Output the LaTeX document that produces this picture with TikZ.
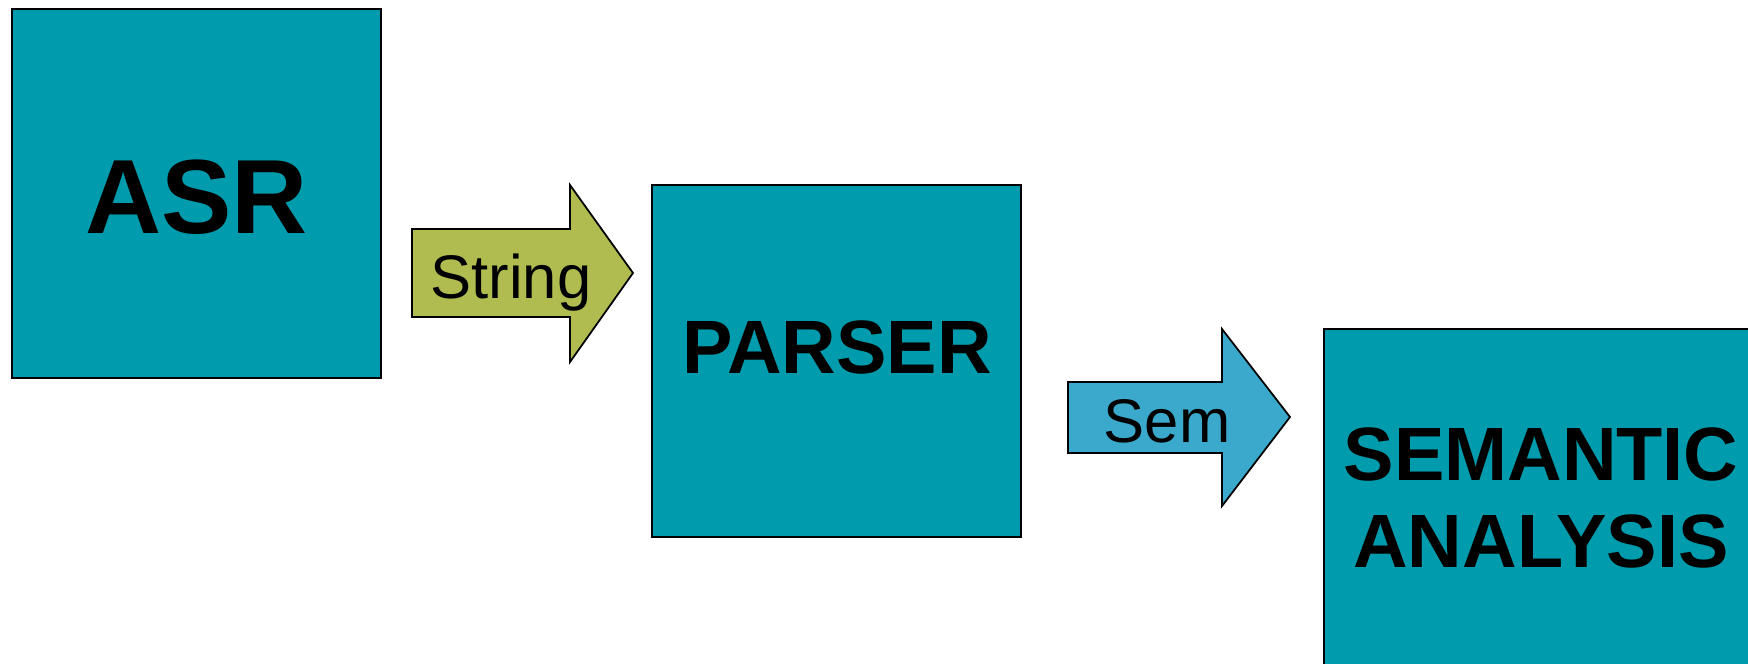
\documentclass[tikz,border=0pt]{standalone}
\usepackage{fontspec}
\setmainfont{Liberation Sans}
\definecolor{stageteal}{HTML}{009BAD}
\definecolor{stringgreen}{HTML}{B0BB50}
\definecolor{semblue}{HTML}{3AA9CC}
\tikzset{
	stage/.style = {draw = black, line width = 0.5pt, fill = stageteal, inner sep = 0pt},
	flow/.style = {draw = black, line width = 0.5pt, line join = miter},
	stagelabel/.style = {font = \fontsize{21.5}{25}\selectfont\bfseries, inner sep = 0pt, align = center},
	flowlabel/.style = {font = \fontsize{17.5}{20}\selectfont, inner sep = 0pt, anchor = base},
}

\begin{document}
\begin{tikzpicture}[x = 0.01cm, y = -0.01cm]
	\useasboundingbox (0,0) rectangle (1748,663);
	\clip (0,0) rectangle (1748,663);
	% the three stages
	\node [stage, minimum width = 3.69cm, minimum height = 3.69cm] (asr) at (196.5,193.5) {};
	\node [stage, minimum width = 3.69cm, minimum height = 3.52cm] (parser) at (836.5,361) {};
	\node [stage, minimum width = 4.5cm, minimum height = 3.8cm] (sem) at (1549,519) {};
	\node [stagelabel, anchor = base, font = \fontsize{30}{34}\selectfont\bfseries] (asrlabel) at (196.5,233) {ASR};
	\node [stagelabel, anchor = base] (parserlabel) at (837,373.5) {PARSER};
	\node [stagelabel] (semlabel) at (1541,498) {SEMANTIC\\ANALYSIS};
	% block arrows between them
	\draw [flow, fill = stringgreen] (412,229) -- (570,229) -- (570,185) -- (633,273)
		-- (570,362) -- (570,317) -- (412,317) -- cycle;
	\node [flowlabel] (stringlabel) at (511,298) {String};
	\draw [flow, fill = semblue] (1068,382) -- (1222,382) -- (1222,329) -- (1290,417)
		-- (1222,506) -- (1222,453) -- (1068,453) -- cycle;
	\node [flowlabel] (semlabel2) at (1167,442) {Sem};
\end{tikzpicture}
\end{document}
